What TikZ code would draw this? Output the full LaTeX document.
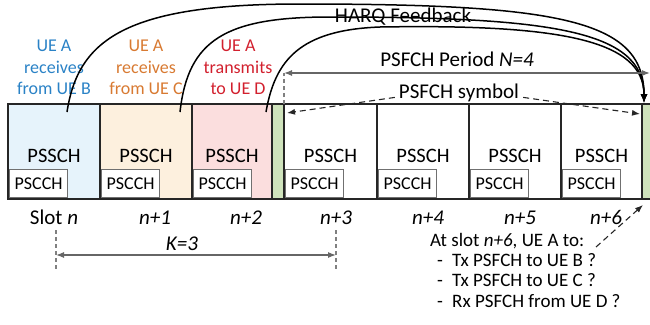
\documentclass[tikz,border=0pt]{standalone}
\usepackage{fontspec}
\setmainfont{Carlito}
\usetikzlibrary{arrows.meta,calc}

\definecolor{framec}{HTML}{262626}
\definecolor{boxgray}{HTML}{707070}
\definecolor{bluefill}{HTML}{E6F3FB}
\definecolor{orangefill}{HTML}{FDF0DE}
\definecolor{pinkfill}{HTML}{FBDEDE}
\definecolor{greenfill}{HTML}{CFE3BC}
\definecolor{uablue}{HTML}{2A82C6}
\definecolor{uaorange}{HTML}{D87A32}
\definecolor{uared}{HTML}{D2202E}

\tikzset{
    slot/.style={anchor=south west, minimum height=95, inner sep=0, outer sep=0},
    frame/.style={draw=framec, line width=2},
    pscch box/.style={draw=boxgray, line width=1.2, fill=white, anchor=south west,
        minimum width=58, minimum height=28, inner sep=0, font=\fontsize{18}{20}\selectfont},
    pssch/.style={anchor=base, inner sep=0, font=\fontsize{20.5}{22}\selectfont},
    ue label/.style={anchor=north, align=center, inner sep=0, font=\fontsize{18}{21.5}\selectfont},
    big text/.style={anchor=base, inner sep=0, font=\fontsize{21}{23}\selectfont},
    list text/.style={anchor=base west, inner sep=0, font=\fontsize{19}{21}\selectfont},
    feedback/.style={line width=1.5, draw=black, -{Latex[length=9,width=7]}},
    span/.style={line width=1.2, draw=gray!80!black, {Latex[length=8,width=6]}-{Latex[length=8,width=6]}},
    guide/.style={line width=1.1, draw=gray, dash pattern=on 4 off 3},
    pointer/.style={line width=1.1, draw=black!85, dash pattern=on 6 off 4, -{Latex[length=8,width=6]}}
    }

\begin{document}
\begin{tikzpicture}[x=1pt,y=-1pt]
    \useasboundingbox (0,0) rectangle (650,324);

    % slots
    \foreach \i/\x/\w/\c in {0/8/92/bluefill, 1/100/92/orangefill, 2/192/80/pinkfill,
            3/284/93/white, 4/377/92/white, 5/469/92/white, 6/561/81/white}{
        \node[slot, fill=\c, minimum width=\w] (s\i) at (\x,199) {};
        \node[pssch] (d\i) at ($(s\i.south)+(0,-37)$) {PSSCH};
        \node[pscch box] (c\i) at ($(s\i.south west)+(1,-1)$) {PSCCH};
        \draw[frame] (s\i.south west) rectangle (s\i.north east);
    }
    % PSFCH symbols
    \node[slot, fill=greenfill, minimum width=12] (g1) at (272,199) {};
    \draw[frame] (g1.south west) rectangle (g1.north east);
    \node[slot, fill=greenfill, minimum width=14] (g2) at (642,199) {};
    \draw[frame] (g2.south west) rectangle (g2.north east);

    % who does what
    \node[ue label, text=uablue] (u0) at (54,40) {UE A\\receives\\from UE B};
    \node[ue label, text=uaorange] (u1) at (146,40) {UE A\\receives\\from UE C};
    \node[ue label, text=uared] (u2) at (238,40) {UE A\\transmits\\to UE D};

    % HARQ feedback
    \coordinate (fb0) at (67,112);
    \coordinate (fb1) at (180,112);
    \coordinate (fb2) at (266,112);
    \coordinate (rx) at (644,103);
    \draw[feedback] (fb0) .. controls (78,40) and (125,4) .. (300,4)
        .. controls (560,4) and (644,20) .. (rx);
    \draw[feedback] (fb1) .. controls (188,40) and (225,17) .. (330,17)
        .. controls (550,17) and (644,30) .. (rx);
    \draw[feedback] (fb2) .. controls (275,60) and (300,30) .. (380,27)
        .. controls (560,24) and (644,40) .. (rx);
    \node[big text] (harq) at (403,23) {HARQ Feedback};

    % PSFCH period
    \coordinate (pl) at (284,73);
    \coordinate (pr) at (650,73);
    \draw[guide] (g1.north east) -- (pl);
    \draw[span] (pl) -- (pr);
    \node[big text] (per) at (457,66) {PSFCH Period \textit{N=4}};

    % PSFCH symbol
    \node[big text] (sym) at (459,98) {PSFCH symbol};
    \coordinate (sy1) at (287,113);
    \coordinate (sy2) at (640,114);
    \draw[pointer] ([xshift=-4,yshift=-5]sym.west) -- (sy1);
    \draw[pointer] ([xshift=4,yshift=-5]sym.east) -- (sy2);

    % slot numbers
    \foreach \x/\t [count=\k] in {54/Slot \textit{n}, 155/\textit{n+1}, 246/\textit{n+2},
            336/\textit{n+3}, 428/\textit{n+4}, 520/\textit{n+5}, 606/\textit{n+6}}{
        \node[big text] (t\k) at (\x,224) {\t};
    }

    % K
    \coordinate (k0t) at (56,230);
    \coordinate (k0b) at (56,270);
    \coordinate (k1t) at (336,230);
    \coordinate (k1b) at (336,270);
    \coordinate (kl) at (56,255);
    \coordinate (kr) at (336,255);
    \draw[guide] (k0t) -- (k0b);
    \draw[guide] (k1t) -- (k1b);
    \draw[span] (kl) -- (kr);
    \node[big text] (k) at (182,250) {\textit{K=3}};

    % question
    \node[list text] (q0) at (430,246) {At slot \textit{n+6}, UE A to:};
    \foreach \y/\t [count=\k] in {266/Tx PSFCH to UE B ?, 286/Tx PSFCH to UE C ?,
            307/Rx PSFCH from UE D ?}{
        \node[list text] (m\k) at (437,\y) {-};
        \node[list text] (q\k) at (452,\y) {\t};
    }
    \coordinate (qa) at (596,247);
    \coordinate (qb) at (643,205);
    \draw[pointer] (qa) -- (qb);
\end{tikzpicture}
\end{document}
